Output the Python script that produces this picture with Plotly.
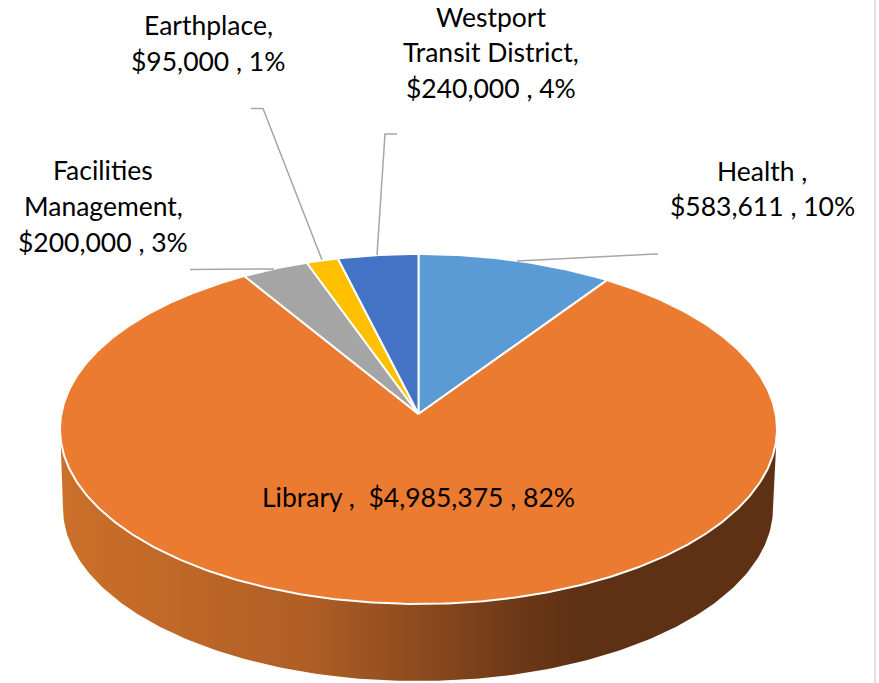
import numpy as np
import plotly.graph_objects as go

categories = ["Health", "Library", "Facilities Management", "Earthplace", "Westport Transit District"]
values = [583611, 4985375, 200000, 95000, 240000]
colors = ["#5B9BD5", "#EB7B31", "#A5A5A5", "#FFC000", "#4472C4"]

label_lines = [
    ("Health ,", 762, 171), ("$583,611 , 10%", 762, 206),
    ("Library ,  $4,985,375 , 82%", 418, 497),
    ("Facilities", 103, 170), ("Management,", 103, 206), ("$200,000 , 3%", 103, 242),
    ("Earthplace,", 208, 25), ("$95,000 , 1%", 208, 61),
    ("Westport", 491, 17), ("Transit District,", 491, 52), ("$240,000 , 4%", 491, 88),
]

leaders = [
    ([517, 655, 658], [261, 254, 254]),
    ([190, 274], [269.5, 269]),
    ([251, 263, 322], [108.5, 108.5, 260]),
    ([397, 385, 377], [134, 134, 255]),
]

# pie geometry (pixels on the page-sized axes)
APEX_X, APEX_Y = 418.5, 414
TOP_R, BOTTOM_R = 160, 190
RX = 358.5
k = (BOTTOM_R - TOP_R) / (BOTTOM_R + TOP_R)
A = TOP_R * (1 + k)
C = RX * np.sqrt(1 - k * k)


def rim(theta):
    """Perspective projection of a point on the pie rim; theta clockwise from top."""
    u, v = np.sin(theta), np.cos(theta)
    d = 1 + k * v
    return APEX_X + C * u / d, APEX_Y - A * v / d


fig = go.Figure()

# side wall
theta_front = np.linspace(np.radians(98), np.radians(262), 200)
tx, ty = rim(theta_front)
bt = np.linspace(np.pi / 2, 3 * np.pi / 2, 200)
bx = 418 + 355 * np.sin(bt)
by = 508 - 173 * np.cos(bt)
side_x = list(tx) + list(bx[::-1])
side_y = list(ty) + list(by[::-1])
fig.add_trace(go.Scatter(
    x=side_x, y=side_y, mode="lines", fill="toself", line=dict(width=0),
    fillgradient=dict(
        type="horizontal", start=60, stop=777,
        colorscale=[[0, "#CC7029"], [0.35, "#AF5E25"], [0.65, "#6A3717"], [0.72, "#5F3114"], [1, "#5F3114"]],
    ),
    hoverinfo="skip", showlegend=False,
))

# top face
total = sum(values)
start = 0.0
for name, val, col in zip(categories, values, colors):
    sweep = 2 * np.pi * val / total
    n = max(int(sweep / 0.01), 8)
    th = np.linspace(start, start + sweep, n)
    x, y = rim(th)
    fig.add_trace(go.Scatter(
        x=[APEX_X, *x, APEX_X], y=[APEX_Y, *y, APEX_Y], mode="lines", fill="toself",
        fillcolor=col, line=dict(color="#FFFFFF", width=2), name=name,
        hoverinfo="name", showlegend=False,
    ))
    start += sweep

shapes = [
    dict(type="line", xref="x", yref="y", x0=875, x1=875, y0=0, y1=683,
         line=dict(color="#E0E0E0", width=2))
]
for lx, ly in leaders:
    path = "M " + " L ".join(f"{a},{b}" for a, b in zip(lx, ly))
    shapes.append(dict(type="path", xref="x", yref="y", path=path,
                       line=dict(color="#A6A6A6", width=1.5)))

annotations = [
    dict(x=x, y=y, xref="x", yref="y", text=t, showarrow=False, xanchor="center", yanchor="middle",
         font=dict(family="Lato", size=26.5, color="#000000"))
    for t, x, y in label_lines
]

fig.update_layout(
    width=879, height=683, margin=dict(l=0, r=0, t=0, b=0),
    paper_bgcolor="#FFFFFF", plot_bgcolor="#FFFFFF",
    xaxis=dict(range=[0, 879], visible=False, fixedrange=True),
    yaxis=dict(range=[683, 0], visible=False, fixedrange=True),
    shapes=shapes, annotations=annotations, showlegend=False,
)

fig.write_html("out.html", config={"displayModeBar": False},
               post_script="document.body.style.margin='0';")
